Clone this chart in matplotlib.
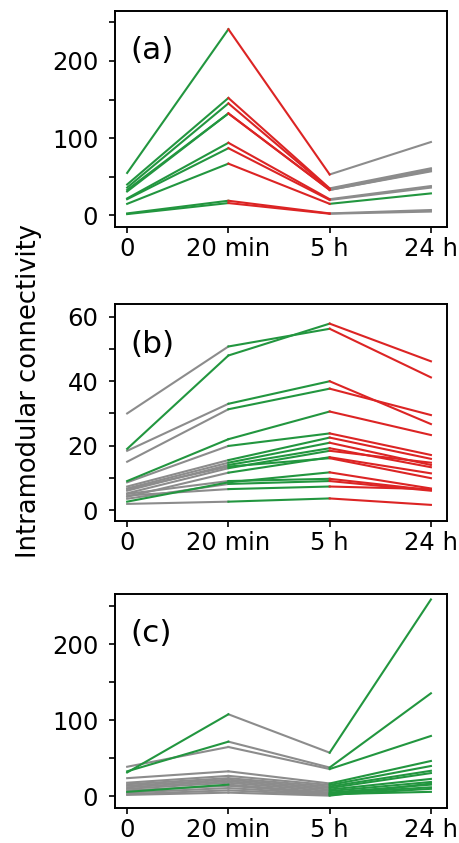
import numpy as np
import matplotlib.pyplot as plt
from matplotlib.ticker import MultipleLocator

times = [0, 1, 2, 3]
time_labels = ["0", "20 min", "5 h", "24 h"]

# values at 0, 20 min, 5 h, 24 h; segment colours: G up, R down, N no change
a_vals = [
    [55, 241, 53, 95],
    [40, 152, 35, 61],
    [36, 145, 34, 59],
    [33, 132, 33, 58],
    [31, 132, 33, 57],
    [22, 94, 21, 38],
    [21, 87, 20, 36],
    [15, 67, 15, 28.5],
    [2.6, 19, 2.6, 7],
    [1.7, 16, 2.2, 5],
]
a_segs = ["GRN", "GRN", "GRN", "GRN", "GRN", "GRN", "GRN", "GRG", "GRN", "GRN"]

b_vals = [
    [30, 50.8, 56.3, 41.2],
    [19, 48, 57.9, 46.2],
    [18.4, 33, 40, 26.7],
    [15, 31.3, 37.7, 29.5],
    [9, 22, 30.6, 23.3],
    [8.6, 19.9, 23.8, 17.1],
    [7.3, 15.5, 22.5, 15.9],
    [6.7, 14.7, 20.9, 14],
    [6, 14, 19.2, 13.3],
    [5.2, 13, 18.4, 14.7],
    [4.1, 11.6, 16.4, 11.4],
    [6.5, 13.5, 16.1, 9.9],
    [2.6, 8.6, 11.7, 6.7],
    [5, 9, 9.7, 6.2],
    [3.5, 8.1, 9, 6],
    [4.5, 6.5, 7.3, 6.5],
    [1.9, 2.6, 3.6, 1.6],
]
b_segs = ["NGR", "GGR", "NGR", "NGR", "GGR", "NGR", "NGR", "NGR", "NGR",
          "NGR", "NGR", "NGR", "GGR", "NGR", "NGR", "NGR", "NGR"]

c_vals = [
    [31.5, 108, 57.5, 259],
    [33, 72, 38, 135.6],
    [39, 65, 36, 79.5],
    [24, 33, 17, 46.6],
    [18, 27, 15, 40],
    [16, 24, 13, 33.7],
    [14, 22, 11, 30.7],
    [12, 20, 9, 23],
    [10, 18, 7, 19],
    [6, 15.5, 5, 15.5],
    [8, 14, 4, 12],
    [5, 11, 3, 6],
    [3, 8, 2, 10],
    [2, 5, 1, 17],
]
c_segs = ["GNG", "GNG", "NNG", "NNG", "NNG", "NNG", "NNG", "NNG", "NNG",
          "GNG", "NNG", "NNG", "NNG", "NNG"]

colors = {"G": "#22963f", "R": "#dc2424", "N": "#8c8c8c"}

panels = [
    ("(a)", a_vals, a_segs, (-15, 264.6), 100, 50, [0.25, 0.7307, 0.722, 0.2563]),
    ("(b)", b_vals, b_segs, (-3.4, 64), 20, 10, [0.25, 0.382, 0.722, 0.2574]),
    ("(c)", c_vals, c_segs, (-14.7, 266), 100, 50, [0.25, 0.042, 0.722, 0.2532]),
]

fig = plt.figure(figsize=(4.6, 8.43), dpi=100)

for label, vals, segs, ylim, major, minor, rect in panels:
    ax = fig.add_axes(rect)
    # grey first so the coloured segments sit on top
    for code in "NGR":
        for v, s in zip(vals, segs):
            for i in range(3):
                if s[i] == code:
                    ax.plot(times[i:i + 2], v[i:i + 2], color=colors[code], lw=1.5)
    ax.set_xlim(-0.12, 3.16)
    ax.set_ylim(*ylim)
    ax.set_xticks(times)
    ax.set_xticklabels(time_labels)
    ax.yaxis.set_major_locator(MultipleLocator(major))
    ax.yaxis.set_minor_locator(MultipleLocator(minor))
    ax.tick_params(labelsize=17.5, width=1.2, length=4.5)
    ax.tick_params(axis="y", pad=7.5)
    ax.tick_params(axis="x", pad=3)
    ax.tick_params(which="minor", width=1.2, length=4.5)
    for sp in ax.spines.values():
        sp.set_linewidth(1.4)
    ax.text(0.045, 0.815, label, transform=ax.transAxes, fontsize=22.5,
            ha="left", va="center")

fig.text(0.062, 0.536, "Intramodular connectivity", rotation=90,
         ha="center", va="center", fontsize=18.5)

fig.savefig("out.png", dpi=100)
